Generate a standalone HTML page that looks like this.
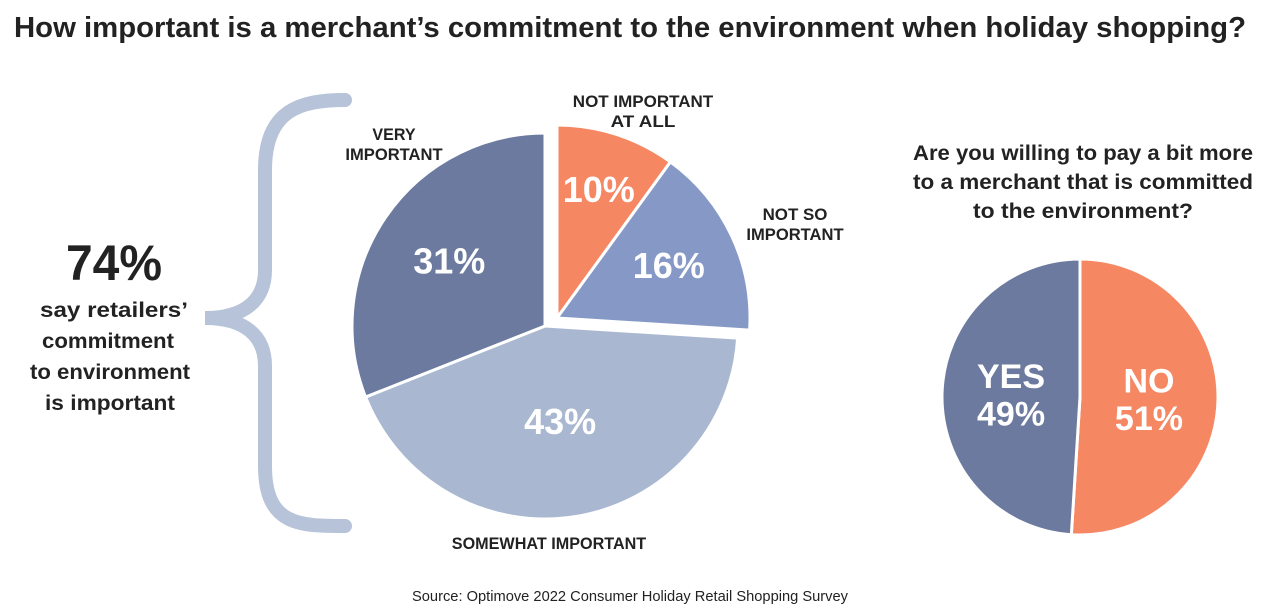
<!DOCTYPE html>
<html><head><meta charset="utf-8"><style>
html,body{margin:0;padding:0;background:#fff;}
svg{display:block;font-family:"Liberation Sans Narrow","Liberation Sans",sans-serif;font-weight:bold;}
</style></head><body>
<svg id="chart" width="1268" height="615" viewBox="0 0 1268 615" xmlns="http://www.w3.org/2000/svg">
<text x="14" y="37" font-size="29" fill="#222" textLength="1232" lengthAdjust="spacingAndGlyphs">How important is a merchant’s commitment to the environment when holiday shopping?</text>
<path d="M345,100 C300,100 265,110 265,170 L265,270 C265,300 245,318 205,318 C245,318 265,336 265,366 L265,466 C265,526 300,526 345,526" fill="none" stroke="#b7c3d8" stroke-width="14" stroke-linecap="round"/>
<text x="114" y="280" font-size="50" text-anchor="middle" fill="#222" textLength="96" lengthAdjust="spacingAndGlyphs">74%</text>
<g font-size="21" fill="#222" text-anchor="middle">
<text x="114" y="317" textLength="148" lengthAdjust="spacingAndGlyphs">say retailers’</text><text x="108" y="348" textLength="132" lengthAdjust="spacingAndGlyphs">commitment</text><text x="110" y="379" textLength="160" lengthAdjust="spacingAndGlyphs">to environment</text><text x="110" y="410" textLength="130" lengthAdjust="spacingAndGlyphs">is important</text></g>
<g id="main-pie"></g>
<g id="side-pie"></g>
<g font-size="21" fill="#222" text-anchor="middle">
<text x="1083" y="160" textLength="340" lengthAdjust="spacingAndGlyphs">Are you willing to pay a bit more</text><text x="1083" y="189" textLength="340" lengthAdjust="spacingAndGlyphs">to a merchant that is committed</text><text x="1083" y="218" textLength="220" lengthAdjust="spacingAndGlyphs">to the environment?</text></g>
<text x="630" y="601" font-size="15" font-weight="normal" text-anchor="middle" fill="#222" textLength="436" lengthAdjust="spacingAndGlyphs">Source: Optimove 2022 Consumer Holiday Retail Shopping Survey</text>
</svg>
<script>
const mainLabels=["NOT IMPORTANT AT ALL","NOT SO IMPORTANT","SOMEWHAT IMPORTANT","VERY IMPORTANT"];
const mainValues=[10,16,43,31];
const mainColors=["#f58763","#8699c6","#a9b8d0","#6b7a9e"];
const mainExploded=[true,true,false,false];
const sideLabels=["NO","YES"];
const sideValues=[51,49];
const sideColors=["#f58763","#6b7a9e"];
const mainLabelR=[0.7,0.64,0.5,0.6];
const NS="http://www.w3.org/2000/svg";
function pt(cx,cy,r,a){return [cx+r*Math.sin(a),cy-r*Math.cos(a)];}
function drawPie(g,vals,cols,cx,cy,r,offs,labels,labelR,fs,nameBase){
  const tot=vals.reduce((a,b)=>a+b,0);let a0=0;
  vals.forEach((v,i)=>{
    const a1=a0+v/tot*2*Math.PI;
    const o=offs?offs[i]:[0,0];const x=cx+o[0],y=cy+o[1];
    const p0=pt(x,y,r,a0),p1=pt(x,y,r,a1);
    const path=document.createElementNS(NS,"path");
    path.setAttribute("d",`M${x},${y}L${p0[0]},${p0[1]}A${r},${r} 0 ${a1-a0>Math.PI?1:0} 1 ${p1[0]},${p1[1]}Z`);
    path.setAttribute("fill",cols[i]);path.setAttribute("stroke","#fff");path.setAttribute("stroke-width","3");
    
    
    g.appendChild(path);
    const m=(a0+a1)/2,lp=pt(x,y,r*labelR[i],m);
    const lines=labels?labels(i,v):[v+"%"];
    lines.forEach((t,k)=>{
      const tx=document.createElementNS(NS,"text");
      tx.setAttribute("x",lp[0]);tx.setAttribute("y",lp[1]+fs*0.35+(k-(lines.length-1)/2)*fs*1.1);
      tx.setAttribute("text-anchor","middle");tx.setAttribute("font-size",fs);tx.setAttribute("fill","#fff");
      tx.textContent=t;
      
      
      g.appendChild(tx);
    });
    a0=a1;
  });
}
const offs=mainExploded.map(e=>e?[12,-8]:[0,0]);
drawPie(document.getElementById("main-pie"),mainValues,mainColors,545,326,193,offs,null,mainLabelR,36,"importance");
drawPie(document.getElementById("side-pie"),sideValues,sideColors,1080,397,138,null,(i,v)=>[sideLabels[i],v+"%"],[0.5,0.5],34,"willing");
const cat=[[ "NOT IMPORTANT","AT ALL",643,107],["NOT SO","IMPORTANT",795,220],["SOMEWHAT IMPORTANT","",549,549],["VERY","IMPORTANT",394,140]];
const mg=document.getElementById("main-pie");
cat.forEach((c,i)=>{[c[0],c[1]].forEach((t,k)=>{if(!t)return;
  const tx=document.createElementNS(NS,"text");tx.setAttribute("x",c[2]);tx.setAttribute("y",c[3]+k*20);
  tx.setAttribute("text-anchor","middle");tx.setAttribute("font-size","17");tx.setAttribute("fill","#222");
  tx.setAttribute("textLength",t.length*10.8);tx.setAttribute("lengthAdjust","spacingAndGlyphs");tx.textContent=t;
  
  
  mg.appendChild(tx);});});
</script>
</body></html>
